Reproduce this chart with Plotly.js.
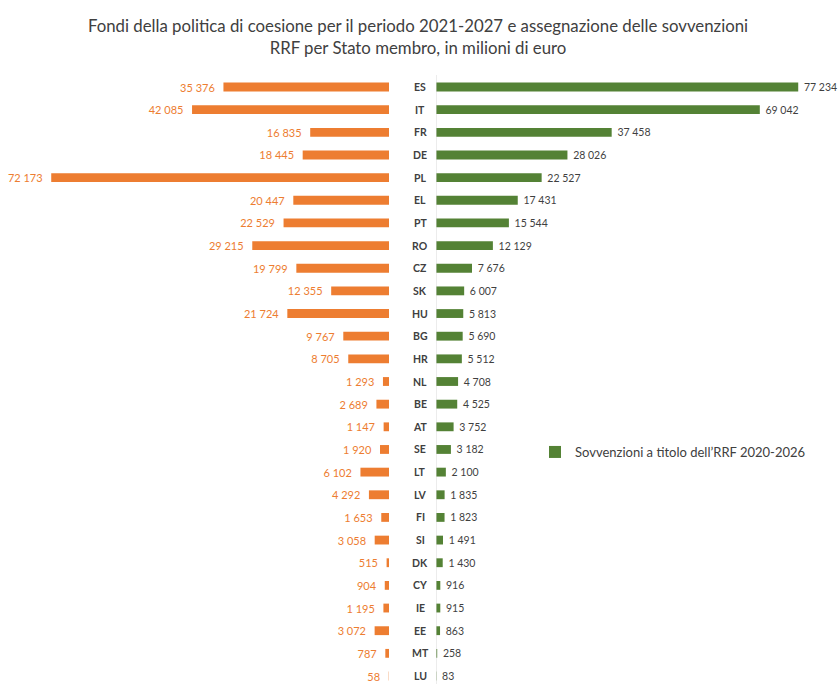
<!DOCTYPE html>
<html>
<head>
<meta charset="utf-8">
<script src="https://cdn.plot.ly/plotly-3.0.1.min.js"></script>
<style>html,body{margin:0;padding:0;background:#fff;}#chart{width:840px;height:684px;}</style>
</head>
<body>
<div id="chart"></div>
<script>
const countries = ["ES","IT","FR","DE","PL","EL","PT","RO","CZ","SK","HU","BG","HR","NL","BE","AT","SE","LT","LV","FI","SI","DK","CY","IE","EE","MT","LU"];
const cohesionFunds = [35376,42085,16835,18445,72173,20447,22529,29215,19799,12355,21724,9767,8705,1293,2689,1147,1920,6102,4292,1653,3058,515,904,1195,3072,787,58];
const rrfGrants = [77234,69042,37458,28026,22527,17431,15544,12129,7676,6007,5813,5690,5512,4708,4525,3752,3182,2100,1835,1823,1491,1430,916,915,863,258,83];
const cohesionName = "Fondi della politica di coesione 2021-2027";
const rrfName = "Sovvenzioni a titolo dell’RRF 2020-2026";
const titleText = "Fondi della politica di coesione per il periodo 2021-2027 e assegnazione delle sovvenzioni<br>RRF per Stato membro, in milioni di euro";

const FONT = "Lato, 'Open Sans', sans-serif";
const ORANGE = "#ED7D31";
const GREEN = "#548235";
const NB = "\u00a0";

const traces = [
  {
    type: "bar", orientation: "h", name: cohesionName,
    y: countries, x: cohesionFunds, xaxis: "x", yaxis: "y",
    marker: {color: ORANGE}, width: 0.39,
    texttemplate: "%{x:,.0f}" + NB + NB, textposition: "outside", constraintext: "none",
    textfont: {family: FONT, size: 11, color: ORANGE},
    cliponaxis: false, showlegend: false, hoverinfo: "y+x"
  },
  {
    type: "bar", orientation: "h", name: rrfName,
    y: countries, x: rrfGrants, xaxis: "x2", yaxis: "y",
    marker: {color: GREEN}, width: 0.39,
    texttemplate: NB + "%{x:,.0f}", textposition: "outside", constraintext: "none",
    textfont: {family: FONT, size: 10.5, color: "#3f3f3f"},
    cliponaxis: false, showlegend: true, hoverinfo: "y+x"
  }
];

const annotations = countries.map(c => ({
  xref: "paper", yref: "y", x: 420/840, y: c, text: c, showarrow: false,
  xanchor: "center", yanchor: "middle",
  font: {family: FONT, size: 10.5, color: "#404040", weight: "bold"}
}));

// rows: ES centre at 87px, LU centre at 676px
const pitch = (676 - 87) / 26;
const yTop = -87 / pitch;
const yBottom = 26 + (684 - 676) / pitch;

const layout = {
  width: 840, height: 684,
  margin: {l: 0, r: 0, t: 0, b: 0},
  paper_bgcolor: "#fff", plot_bgcolor: "rgba(0,0,0,0)",
  separators: ", ",
  font: {family: FONT, color: "#404040"},
  title: {
    text: titleText, x: 418/840, xanchor: "center", xref: "paper",
    y: 1 - 32/684, yanchor: "middle", yref: "container",
    font: {family: FONT, size: 16.8, color: "#404040"}
  },
  xaxis: {
    domain: [0, 389/840], range: [83120, 0], showgrid: false, zeroline: false,
    showticklabels: false, showline: false, ticks: "", fixedrange: true
  },
  xaxis2: {
    domain: [436/840, 1], range: [0, 86140], showgrid: false, zeroline: false,
    showticklabels: false, showline: false, ticks: "", fixedrange: true
  },
  yaxis: {
    type: "category", range: [yBottom, yTop], showgrid: false, zeroline: false,
    showticklabels: false, showline: false, ticks: "", fixedrange: true
  },
  shapes: [{
    type: "line", xref: "x2", yref: "paper", x0: 0, x1: 0, y0: 0, y1: 1 - 75/684,
    line: {color: "#d9d9d9", width: 1}
  }],
  legend: {
    x: 535/840, y: 1 - 452/684, xanchor: "left", yanchor: "middle",
    bgcolor: "rgba(0,0,0,0)", itemwidth: 30,
    font: {family: FONT, size: 13, color: "#404040"}
  },
  annotations: annotations,
  bargap: 0.6
};

Plotly.newPlot("chart", traces, layout, {displayModeBar: false, staticPlot: true});
</script>
</body>
</html>
